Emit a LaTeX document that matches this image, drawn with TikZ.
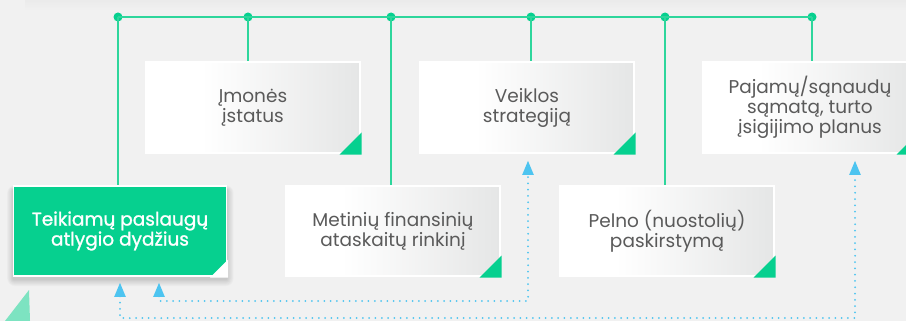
\documentclass[tikz,border=0pt]{standalone}
\usepackage{fontspec}
\setmainfont{Poppins}
\newfontfamily\medfont[FakeBold=1.2]{Poppins}
\usetikzlibrary{arrows.meta,calc}
\definecolor{bg}{HTML}{F1F1F1}
\definecolor{brand}{HTML}{06D08F}
\definecolor{lineg}{HTML}{2ED69C}
\definecolor{dotblue}{HTML}{4DC4F0}
\definecolor{txt}{HTML}{5A5A5A}
\definecolor{boxgray}{HTML}{E5E6E6}
\definecolor{lightg}{HTML}{7DE3C1}
\pgfdeclarehorizontalshading{boxshade}{100bp}{color(0bp)=(white); color(25bp)=(white); color(38bp)=(white); color(75bp)=(boxgray); color(100bp)=(boxgray)}
\tikzset{
  dotnode/.style={circle, inner sep=0pt, minimum size=9pt, fill=brand},
  gline/.style={draw=lineg, line width=1.4pt},
  wbox/.style={rectangle, draw=white, line width=1.5pt, shading=boxshade, minimum width=214pt, minimum height=91pt,
    align=center, text=txt, font=\fontsize{18.5}{20}\selectfont, inner sep=0pt},
  gbox/.style={rectangle, draw=white, line width=1.5pt, fill=brand, minimum width=213pt, minimum height=90pt,
    align=center, text=white, font=\medfont\fontsize{18.5}{20}\selectfont, inner sep=0pt},
  darrow/.style={draw=dotblue, line width=2pt, line cap=round, dash pattern=on 0pt off 6.3pt,
    {Triangle[width=11pt,length=14pt]}-{Triangle[width=11pt,length=14pt]}},
}
\begin{document}
\begin{tikzpicture}[x=1pt,y=-1pt]
\fill[bg] (0,0) rectangle (906,321);
\useasboundingbox (0,0) rectangle (906,321);
\shade[top color=black!8, bottom color=bg] (25,0) rectangle (906,10);
% bottom-left decorative triangle
\fill[lightg] (29,290) -- (30,321) -- (5,321) -- cycle;
% bus dots
\node[dotnode] (d1) at (118,17) {};
\node[dotnode] (d2) at (248,17) {};
\node[dotnode] (d3) at (391,17) {};
\node[dotnode] (d4) at (531,17) {};
\node[dotnode] (d5) at (665,17) {};
\node[dotnode] (d6) at (812,17) {};
\draw[gline] (d1.center) -- (d6.center);
% vertical connectors
\draw[gline] (d1.center) -- (118,190);
\draw[gline] (d2.center) -- (248,66);
\draw[gline] (d3.center) -- (391,190);
\draw[gline] (d4.center) -- (531,66);
\draw[gline] (d5.center) -- (665,190);
\draw[gline] (d6.center) -- (812,66);
% soft shadow of the green box
\foreach \i in {1,...,8}{
  \fill[black, opacity=0.018, rounded corners=\i pt] (13.5-\i*0.8,186+4-\i*0.6) rectangle (226.5+\i*0.9,276+3+\i*0.9);
}
% boxes
\node[wbox] (b1) at (253,107.5) {Įmonės\\įstatus};
\node[wbox] (b2) at (527,107.5) {Veiklos\\strategiją};
\node[wbox] (b3) at (810,107.5) {Pajamų/sąnaudų\\sąmatą, turto\\įsigijimo planus};
\node[gbox] (b4) at (120,231) {Teikiamų paslaugų\\atlygio dydžius};
\node[wbox, minimum height=90pt] (b5) at (393,231) {Metinių finansinių\\ataskaitų rinkinį};
\node[wbox, minimum height=90pt] (b6) at (667,231) {Pelno (nuostolių)\\paskirstymą};
% corner triangles
\foreach \b in {b1,b2,b3,b5,b6}{
  \fill[brand] ($(\b.south east)+(0.75,0.75)$) -- ++(-22,0) -- ++(22,-22) -- cycle;
}
\fill[white] ($(b4.south east)+(0.75,0.75)$) -- ++(-18,0) -- ++(18,-18) -- cycle;
% dotted arrows
\coordinate (a1s) at ($(b4.south)+(39,6)$);
\coordinate (a1e) at ($(b2.south)+(1,7)$);
\coordinate (a2s) at ($(b4.south)+(0,6)$);
\coordinate (a2e) at ($(b3.south)+(45,7)$);
\draw[darrow] (a1s) -- (a1s |- 0,301) -- (a1e |- 0,301) -- (a1e);
\draw[darrow] (a2s) -- (a2s |- 0,318) -- (a2e |- 0,318) -- (a2e);
\end{tikzpicture}
\end{document}
